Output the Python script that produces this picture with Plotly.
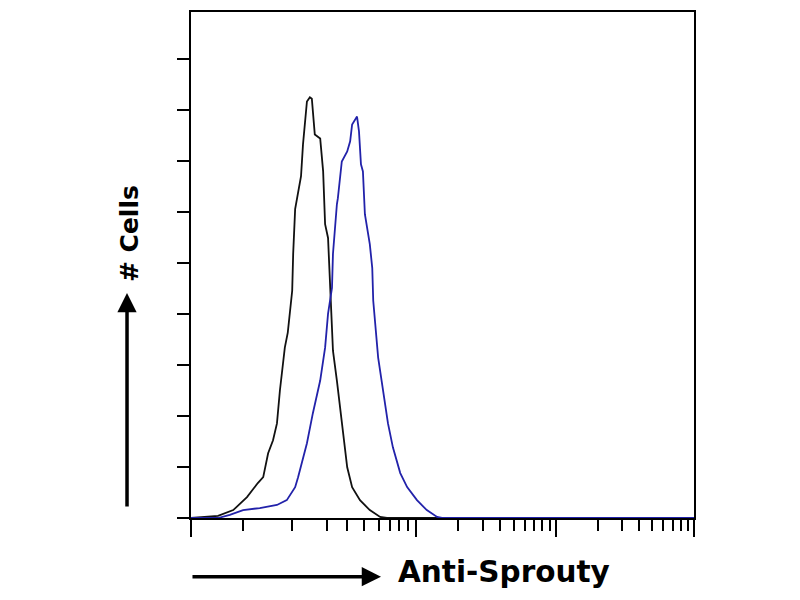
import math
import plotly.graph_objects as go

# Flow cytometry histogram: channel (display scale) vs. cell count

black_ch = [0, 24, 55, 86, 114, 136, 147, 157, 167, 175, 181, 191, 197, 206, 208, 212,
            218, 224, 228, 236, 242, 246, 252, 263, 269, 273, 279, 283, 289, 297, 307,
            318, 328, 344, 364, 385, 399, 1024]
black_counts = [0, 0.4, 0.8, 3.1, 8.2, 13.7, 16.0, 25.4, 30.5, 37.1, 50.0, 66.8, 72.7,
                89.1, 103.5, 121.1, 128.1, 134.0, 146.5, 163.3, 165.0, 164.4, 150.4,
                148.8, 135.9, 115.2, 109.8, 90.2, 65.6, 53.9, 38.3, 19.9, 12.1, 7.0,
                3.1, 0.4, 0, 0]

blue_ch = [0, 55, 79, 106, 140, 175, 195, 212, 218, 236, 248, 263, 273, 279, 287, 289,
           297, 299, 307, 318, 324, 328, 338, 342, 346, 350, 354, 360, 364, 369, 371,
           381, 391, 401, 411, 426, 440, 460, 480, 501, 511, 1024]
blue_counts = [0, 0, 1.2, 3.1, 3.9, 5.1, 7.0, 12.1, 16.0, 29.3, 41.0, 53.9, 66.8, 80.1,
               90.2, 103.5, 123.0, 125.4, 139.8, 143.7, 147.7, 154.3, 157.4, 151.6,
               138.7, 135.9, 119.1, 112.5, 107.4, 98.0, 85.2, 62.9, 50.0, 37.1, 27.7,
               17.6, 12.1, 7.0, 3.1, 0.4, 0, 0]

# axis ticks (channel positions)
x_major = [0, 458, 743, 1024]
x_minor_low = [106, 206, 277, 318, 352, 383, 405, 423, 442]
y_ticks = [0, 20, 40, 60, 80, 100, 120, 140, 160, 180]

x_minor = list(x_minor_low)
for a, b in zip(x_major[1:-1], x_major[2:]):
    x_minor += [a + (b - a) * math.log10(k) for k in range(2, 10)]

fig = go.Figure()
fig.add_trace(go.Scatter(x=black_ch, y=black_counts, mode="lines",
                         line=dict(color="#111111", width=1.8)))
fig.add_trace(go.Scatter(x=blue_ch, y=blue_counts, mode="lines",
                         line=dict(color="#2222aa", width=1.8)))

# page body has an 8px margin, so offsets are taken off here
fig.update_layout(
    width=800, height=600,
    margin=dict(l=183, r=114, t=2, b=90),
    plot_bgcolor="white", paper_bgcolor="white",
    showlegend=False,
)
fig.update_xaxes(
    range=[0, 1024], showgrid=False, zeroline=False,
    showline=True, linecolor="black", linewidth=2, mirror=True,
    tickmode="array", tickvals=x_major, showticklabels=False,
    ticks="outside", ticklen=17, tickwidth=2, tickcolor="black",
    minor=dict(tickmode="array", tickvals=x_minor, ticks="outside",
               ticklen=11, tickwidth=2, tickcolor="black"),
)
fig.update_yaxes(
    range=[0, 198.4], showgrid=False, zeroline=False,
    showline=True, linecolor="black", linewidth=2, mirror=True,
    tickmode="array", tickvals=y_ticks, showticklabels=False,
    ticks="outside", ticklen=12, tickwidth=2, tickcolor="black",
)

# axis labels with arrows
fig.add_annotation(x=-0.1272, y=0.4449, xref="paper", yref="paper",
                   ax=0, ay=215, showarrow=True, arrowhead=2, arrowsize=1.1,
                   arrowwidth=3.5, arrowcolor="black", text="")
fig.add_annotation(x=0.3777, y=-0.1161, xref="paper", yref="paper",
                   ax=-190, ay=0, showarrow=True, arrowhead=2, arrowsize=1.1,
                   arrowwidth=3.5, arrowcolor="black", text="")
fig.add_annotation(x=-0.1233, y=0.563, xref="paper", yref="paper",
                   xanchor="center", yanchor="middle",
                   text="<b># Cells</b>", textangle=-90, showarrow=False,
                   font=dict(family="DejaVu Sans", size=25, color="black"))
fig.add_annotation(x=0.6223, y=-0.1063, xref="paper", yref="paper",
                   xanchor="center", yanchor="middle",
                   text="<b>Anti-Sprouty</b>", showarrow=False,
                   font=dict(family="DejaVu Sans", size=29.5, color="black"))

fig.write_html("out.html")
